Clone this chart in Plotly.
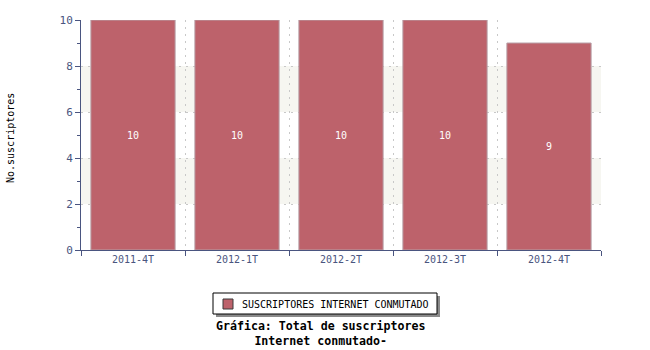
import plotly.graph_objects as go

categories = ["2011-4T", "2012-1T", "2012-2T", "2012-3T", "2012-4T"]
values = [10, 10, 10, 10, 9]
series_name = "SUSCRIPTORES INTERNET CONMUTADO"
y_title = "No.suscriptores"
chart_title = "<b>Gráfica: Total de suscriptores<br>Internet conmutado-</b>"

FONT = "DejaVu Sans Mono"
AXC = "#4a5580"
BAR = "#bd626b"
L, R, T, B = 81, 49, 20, 100
W, H = 650, 350
pw, ph = W - L - R, H - T - B

def px_x(p):
    return (p - L) / pw

def px_y(p):
    return (H - B - p) / ph

fig = go.Figure()
fig.add_trace(go.Bar(
    x=categories, y=values, name=series_name,
    marker=dict(color=BAR, line=dict(color="#b8a0a8", width=1)),
    width=0.81,
    text=[str(v) for v in values], textposition="inside",
    insidetextanchor="middle",
    textfont=dict(family=FONT, size=10, color="white"),
    showlegend=False,
))

for y0, y1 in [(2, 4), (6, 8)]:
    fig.add_shape(type="rect", xref="paper", yref="y", x0=0, x1=1, y0=y0, y1=y1,
                  fillcolor="#f6f6f1", line=dict(width=0), layer="below")

# custom legend box with shadow
fig.add_shape(type="rect", xref="paper", yref="paper",
              x0=px_x(216), x1=px_x(440), y0=px_y(317), y1=px_y(296),
              fillcolor="#8a8a8a", line=dict(width=0), layer="above")
fig.add_shape(type="rect", xref="paper", yref="paper",
              x0=px_x(213), x1=px_x(437), y0=px_y(314), y1=px_y(293),
              fillcolor="white", line=dict(width=1, color="black"), layer="above")
fig.add_shape(type="rect", xref="paper", yref="paper",
              x0=px_x(223), x1=px_x(233), y0=px_y(309), y1=px_y(299),
              fillcolor=BAR, line=dict(width=1, color="#3a3a3a"), layer="above")
fig.add_annotation(text=series_name, xref="paper", yref="paper",
                   x=px_x(240), y=px_y(304), xanchor="left", yanchor="middle",
                   showarrow=False,
                   font=dict(family=FONT, size=10, color="black"))

fig.add_annotation(text=chart_title, xref="paper", yref="paper",
                   x=px_x(320), y=px_y(317), xanchor="center", yanchor="top",
                   showarrow=False, align="center",
                   font=dict(family=FONT, size=11.6, color="black"))

fig.add_annotation(text=y_title, xref="paper", yref="paper",
                   x=px_x(10), y=px_y(138), xanchor="center", yanchor="middle",
                   showarrow=False, textangle=-90,
                   font=dict(family=FONT, size=10, color="black"))

fig.update_layout(
    width=W, height=H,
    margin=dict(l=L, r=R, t=T, b=B, autoexpand=False),
    plot_bgcolor="white", paper_bgcolor="white",
    bargap=0.19,
    showlegend=False,
    xaxis=dict(
        type="category", tickson="boundaries",
        showline=True, linecolor=AXC, linewidth=1,
        ticks="outside", ticklen=5, tickcolor=AXC,
        showgrid=True, gridcolor="#c8c8c8", griddash="2px,5px", gridwidth=1,
        tickfont=dict(family=FONT, size=10, color=AXC),
        range=[-0.5, 4.5], automargin=False,
    ),
    yaxis=dict(
        range=[0, 10], dtick=2, tick0=0,
        showline=True, linecolor=AXC, linewidth=1,
        ticks="outside", ticklen=5, tickcolor=AXC,
        showgrid=True, gridcolor="#c8c8c8", griddash="2px,5px", gridwidth=1,
        zeroline=False, automargin=False,
        tickfont=dict(family=FONT, size=11, color=AXC),
        minor=dict(dtick=1, ticks="outside", ticklen=3, tickcolor=AXC, showgrid=False),
    ),
)

fig.write_html("out.html")
